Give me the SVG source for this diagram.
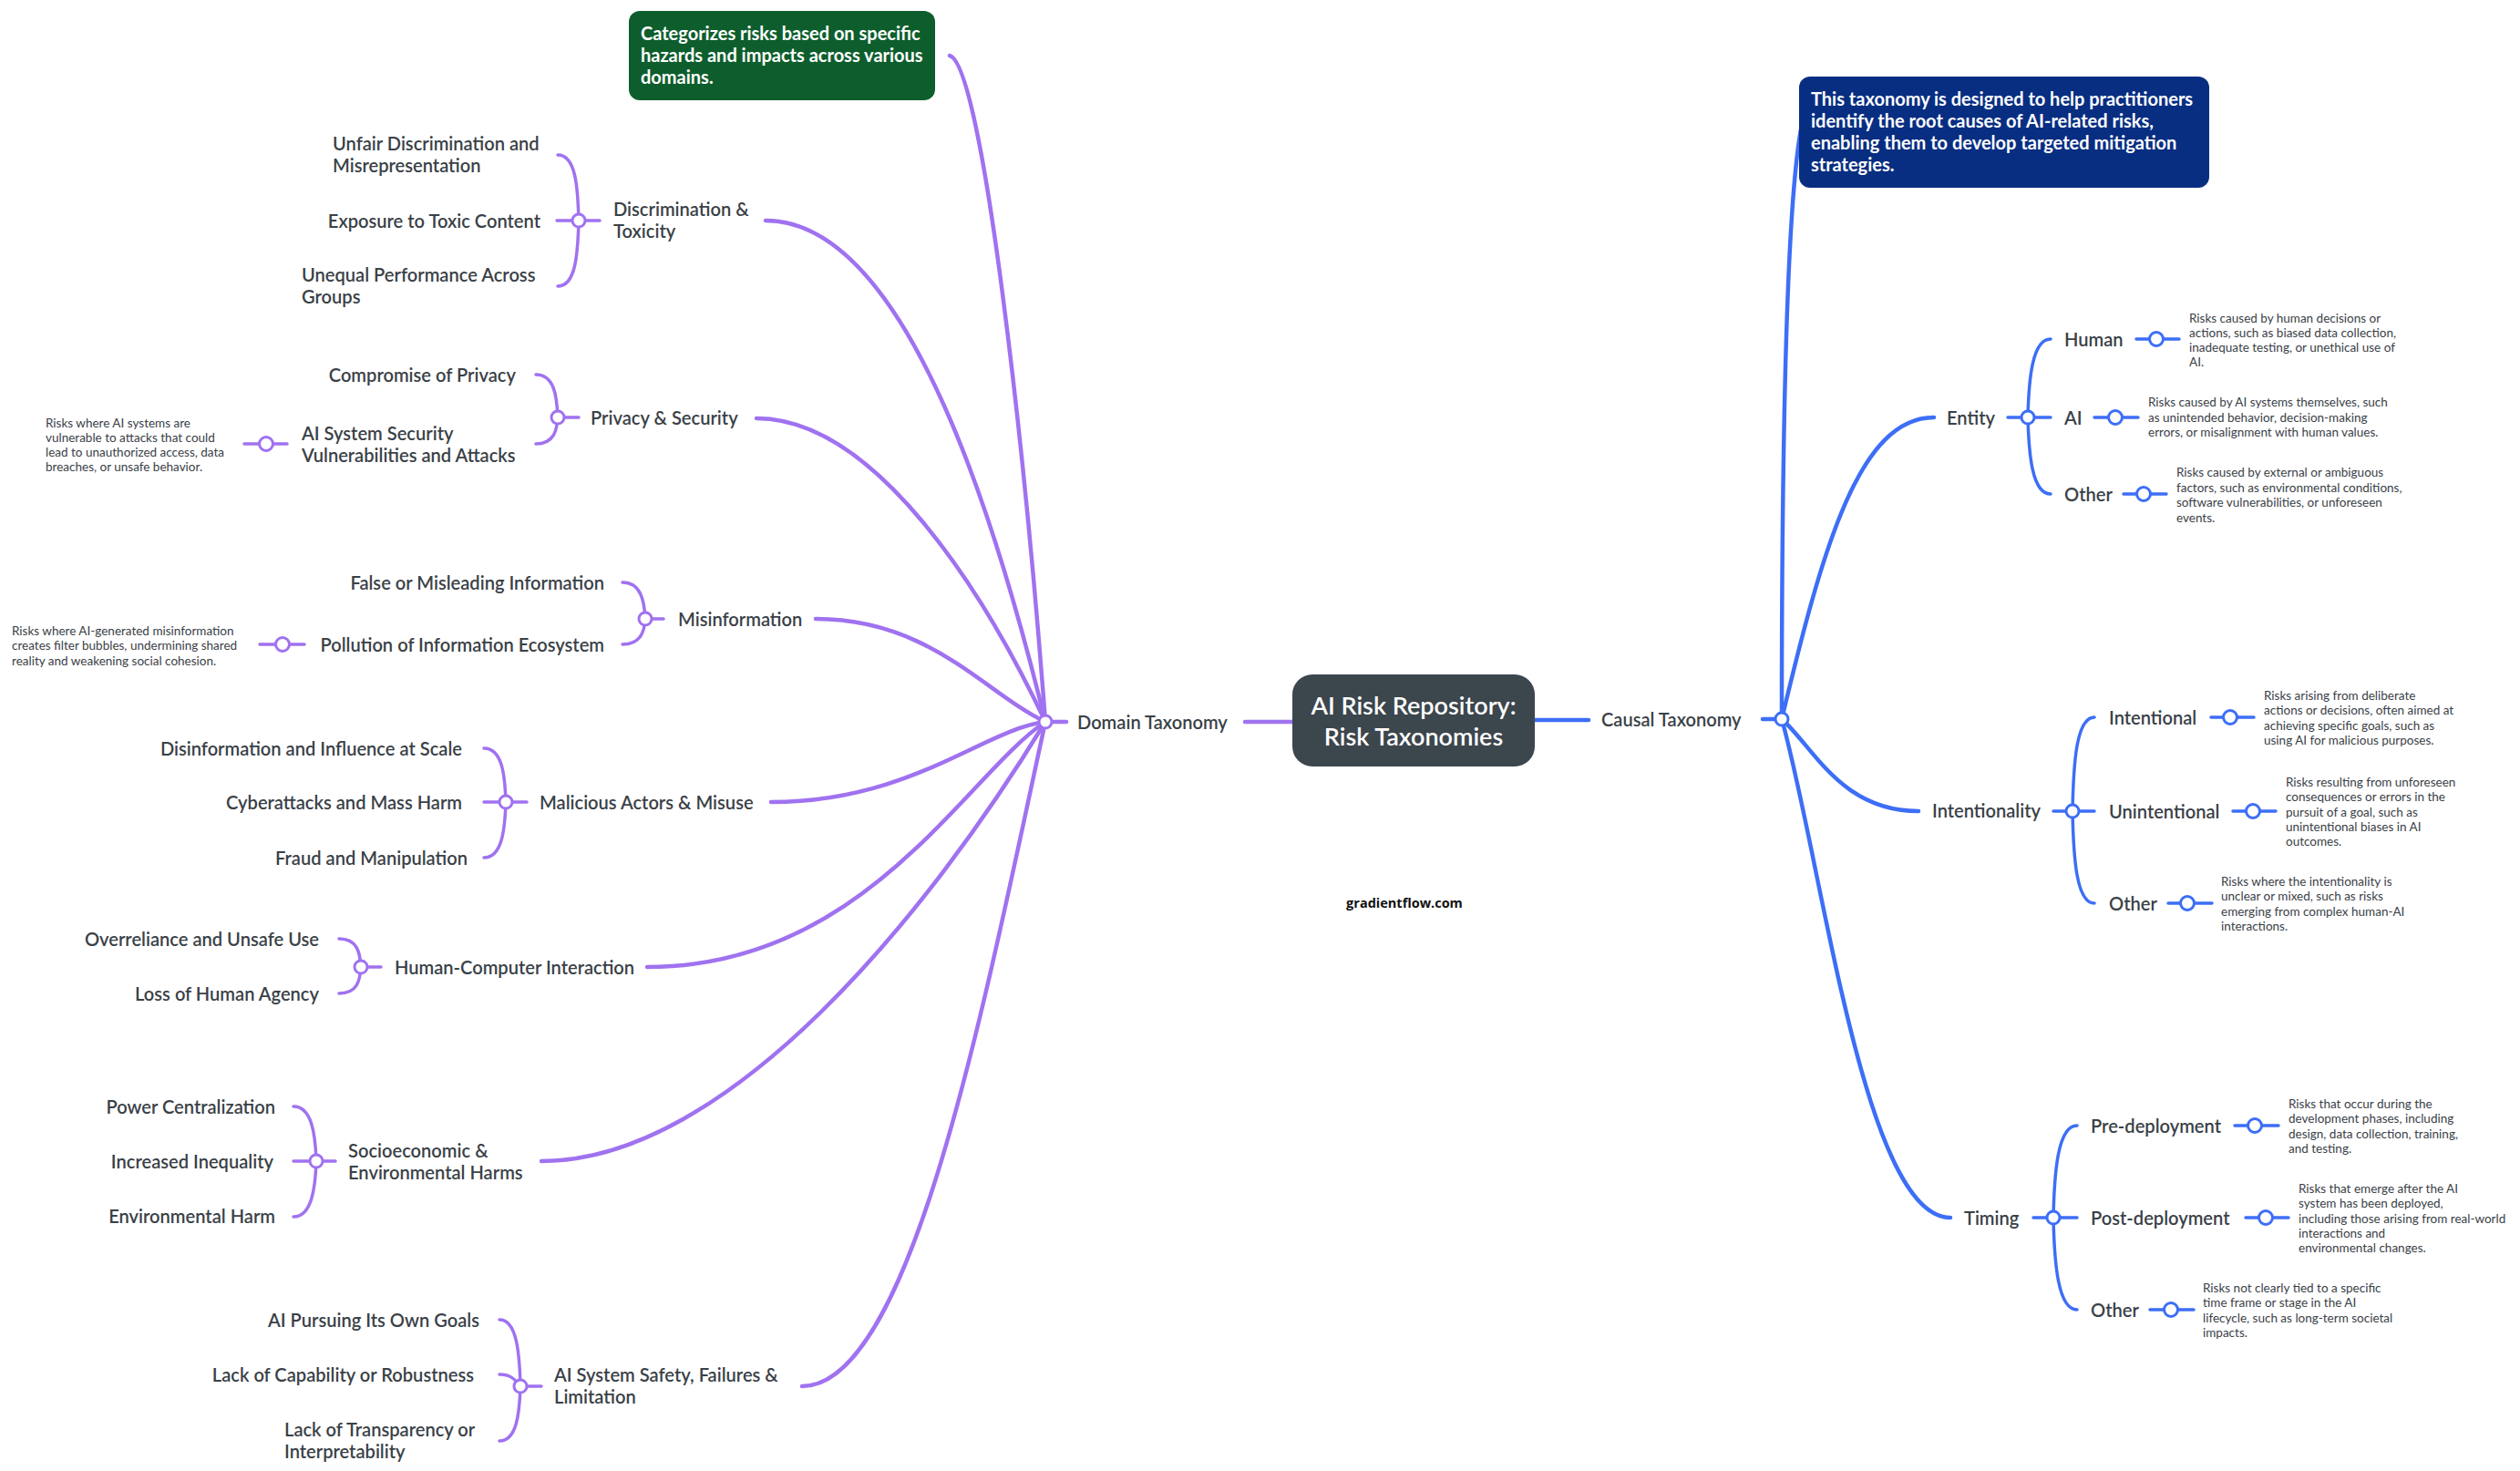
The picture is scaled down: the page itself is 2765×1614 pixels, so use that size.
<svg xmlns="http://www.w3.org/2000/svg" width="2765" height="1614" viewBox="0 0 2765 1614">
<style>
text{font-family:Lato,"Liberation Sans",sans-serif;dominant-baseline:central;fill:#3a4147}
.lb{font-size:20.1px;font-weight:600}
.nt{font-size:13.5px;font-weight:400}
.wt{fill:#fff;font-weight:700;font-size:20px}
.ct{fill:#fff;font-size:27px;font-weight:600}
.p{stroke:#a072f0;fill:none;stroke-width:3.5;stroke-linecap:round}
.pm{stroke:#a072f0;fill:none;stroke-width:4.5;stroke-linecap:round}
.b{stroke:#3d6ef6;fill:none;stroke-width:3.5;stroke-linecap:round}
.bm{stroke:#3d6ef6;fill:none;stroke-width:4.5;stroke-linecap:round}
.hp{fill:#fff;stroke:#a072f0;stroke-width:3}
.hb{fill:#fff;stroke:#3d6ef6;stroke-width:3}
</style>
<rect width="2765" height="1614" fill="#fff"/>
<g id="connectors">
<!-- domain side -->
<path class="pm" d="M1366,792 L1418,792"/>
<path class="pm" d="M1147,792 L1170,792"/>
<path class="pm" d="M1042,61 C1078,70 1125,500 1147,792"/>
<path class="pm" d="M840,242 C1000,242 1100,600 1147,792"/>
<path class="pm" d="M830,459 C960,459 1080,650 1147,792"/>
<path class="pm" d="M895,679 C1020,679 1080,760 1147,792"/>
<path class="pm" d="M846,880 C1000,880 1080,800 1147,792"/>
<path class="pm" d="M710,1061 C950,1061 1060,850 1147,792"/>
<path class="pm" d="M594,1274 C800,1274 1020,1000 1147,792"/>
<path class="pm" d="M880,1521 C1000,1521 1080,1100 1147,792"/>
<!-- discrimination -->
<path class="p" d="M611,242 L658,242"/>
<path class="p" d="M635,242 C634,206 632,170 612,170"/>
<path class="p" d="M635,242 C634,278 632,314 612,314"/>
<!-- privacy -->
<path class="p" d="M612,458 L635,458"/>
<path class="p" d="M612,458 C611,434 608,411 588,411"/>
<path class="p" d="M612,458 C611,472 608,487 588,487"/>
<path class="p" d="M268,487 L315,487"/>
<!-- misinformation -->
<path class="p" d="M708,679 L728,679"/>
<path class="p" d="M708,679 C707,659 703,639 683,639"/>
<path class="p" d="M708,679 C707,693 703,707 683,707"/>
<path class="p" d="M285,707 L334,707"/>
<!-- malicious -->
<path class="p" d="M531,880 L578,880"/>
<path class="p" d="M555,880 C554,850 551,821 531,821"/>
<path class="p" d="M555,880 C554,910 551,941 531,941"/>
<!-- hci -->
<path class="p" d="M396,1061 L418,1061"/>
<path class="p" d="M396,1061 C395,1045 392,1030 372,1030"/>
<path class="p" d="M396,1061 C395,1076 392,1090 372,1090"/>
<!-- socio -->
<path class="p" d="M322,1274 L368,1274"/>
<path class="p" d="M347,1274 C346,1244 342,1214 322,1214"/>
<path class="p" d="M347,1274 C346,1304 342,1335 322,1335"/>
<!-- safety -->
<path class="p" d="M571,1521 L594,1521"/>
<path class="p" d="M571,1521 C570,1484 567,1448 548,1448"/>
<path class="p" d="M571,1521 C564,1512 559,1508 548,1508"/>
<path class="p" d="M571,1521 C570,1551 567,1581 548,1581"/>
<!-- causal side -->
<path class="bm" d="M1684,790 L1743,790"/>
<path class="bm" d="M1934,789 L1955,789"/>
<path class="bm" d="M1955,789 C1955,500 1960,230 1976,142"/>
<path class="bm" d="M1955,789 C2000,600 2040,458 2122,458"/>
<path class="bm" d="M1955,789 C1990,820 2020,890 2105,890"/>
<path class="bm" d="M1955,789 C2000,950 2045,1336 2140,1336"/>
<!-- entity -->
<path class="b" d="M2203,458 L2250,458"/>
<path class="b" d="M2225,458 C2226,415 2230,372 2250,372"/>
<path class="b" d="M2225,458 C2226,500 2230,542 2250,542"/>
<path class="b" d="M2344,372 L2391,372"/>
<path class="b" d="M2298,458 L2346,458"/>
<path class="b" d="M2330,542 L2377,542"/>
<!-- intentionality -->
<path class="b" d="M2253,890 L2298,890"/>
<path class="b" d="M2274,890 C2275,838 2278,787 2298,787"/>
<path class="b" d="M2274,890 C2275,940 2278,991 2298,991"/>
<path class="b" d="M2426,787 L2473,787"/>
<path class="b" d="M2450,890 L2497,890"/>
<path class="b" d="M2379,991 L2427,991"/>
<!-- timing -->
<path class="b" d="M2231,1336 L2279,1336"/>
<path class="b" d="M2253,1336 C2254,1285 2258,1235 2279,1235"/>
<path class="b" d="M2253,1336 C2254,1386 2258,1437 2279,1437"/>
<path class="b" d="M2452,1235 L2500,1235"/>
<path class="b" d="M2464,1336 L2511,1336"/>
<path class="b" d="M2359,1437 L2407,1437"/>
</g>

<g id="center">
<rect x="1418" y="740" width="266" height="101" rx="22" fill="#3c464d"/>
<text class="ct" x="1551" y="773" text-anchor="middle">AI Risk Repository:</text>
<text class="ct" x="1551" y="807" text-anchor="middle">Risk Taxonomies</text>
</g>
<text id="credit" x="1541" y="990" text-anchor="middle" style="font-family:'Open Sans',sans-serif;font-size:14.5px;font-weight:700;fill:#111">gradientflow.com</text>

<g id="domain-taxonomy">
<circle class="hp" cx="1147" cy="792" r="7"/>
<text class="lb" x="1182" y="792">Domain Taxonomy</text>
</g>
<g id="domain-note">
<rect x="690" y="12" width="336" height="98" rx="12" fill="#0e5e2d"/>
<text class="wt" x="703" y="36">Categorizes risks based on specific</text>
<text class="wt" x="703" y="60">hazards and impacts across various</text>
<text class="wt" x="703" y="84">domains.</text>
</g>

<g id="discrimination">
<circle class="hp" cx="635" cy="242" r="7"/>
<text class="lb" x="673" y="229">Discrimination &amp;</text>
<text class="lb" x="673" y="253">Toxicity</text>
</g>
<g id="unfair"><text class="lb" x="365" y="157">Unfair Discrimination and</text><text class="lb" x="365" y="181">Misrepresentation</text></g>
<g id="toxic"><text class="lb" x="593" y="242" text-anchor="end">Exposure to Toxic Content</text></g>
<g id="unequal"><text class="lb" x="331" y="301">Unequal Performance Across</text><text class="lb" x="331" y="325">Groups</text></g>

<g id="privacy">
<circle class="hp" cx="612" cy="458" r="7"/>
<text class="lb" x="648" y="458">Privacy &amp; Security</text>
</g>
<g id="compromise"><text class="lb" x="566" y="411" text-anchor="end">Compromise of Privacy</text></g>
<g id="aisec"><text class="lb" x="331" y="475">AI System Security</text><text class="lb" x="331" y="499">Vulnerabilities and Attacks</text>
<circle class="hp" cx="292" cy="487" r="7.5"/></g>
<g id="aisec-note"><text class="nt" x="50" y="464">Risks where AI systems are</text><text class="nt" x="50" y="480">vulnerable to attacks that could</text><text class="nt" x="50" y="496">lead to unauthorized access, data</text><text class="nt" x="50" y="512">breaches, or unsafe behavior.</text></g>

<g id="misinformation">
<circle class="hp" cx="708" cy="679" r="7"/>
<text class="lb" x="744" y="679">Misinformation</text>
</g>
<g id="false"><text class="lb" x="663" y="639" text-anchor="end">False or Misleading Information</text></g>
<g id="pollution"><text class="lb" x="663" y="707" text-anchor="end">Pollution of Information Ecosystem</text>
<circle class="hp" cx="310" cy="707" r="7.5"/></g>
<g id="pollution-note"><text class="nt" x="13" y="692">Risks where AI-generated misinformation</text><text class="nt" x="13" y="708">creates filter bubbles, undermining shared</text><text class="nt" x="13" y="725">reality and weakening social cohesion.</text></g>

<g id="malicious">
<circle class="hp" cx="555" cy="880" r="7"/>
<text class="lb" x="592" y="880">Malicious Actors &amp; Misuse</text>
</g>
<g id="disinfo"><text class="lb" x="507" y="821" text-anchor="end">Disinformation and Influence at Scale</text></g>
<g id="cyber"><text class="lb" x="507" y="880" text-anchor="end">Cyberattacks and Mass Harm</text></g>
<g id="fraud"><text class="lb" x="513" y="941" text-anchor="end">Fraud and Manipulation</text></g>

<g id="hci">
<circle class="hp" cx="396" cy="1061" r="7"/>
<text class="lb" x="433" y="1061">Human-Computer Interaction</text>
</g>
<g id="overreliance"><text class="lb" x="350" y="1030" text-anchor="end">Overreliance and Unsafe Use</text></g>
<g id="agency"><text class="lb" x="350" y="1090" text-anchor="end">Loss of Human Agency</text></g>

<g id="socio">
<circle class="hp" cx="347" cy="1274" r="7"/>
<text class="lb" x="382" y="1262">Socioeconomic &amp;</text>
<text class="lb" x="382" y="1286">Environmental Harms</text>
</g>
<g id="power"><text class="lb" x="302" y="1214" text-anchor="end">Power Centralization</text></g>
<g id="inequality"><text class="lb" x="300" y="1274" text-anchor="end">Increased Inequality</text></g>
<g id="envharm"><text class="lb" x="302" y="1334" text-anchor="end">Environmental Harm</text></g>

<g id="safety">
<circle class="hp" cx="571" cy="1521" r="7"/>
<text class="lb" x="608" y="1508">AI System Safety, Failures &amp;</text>
<text class="lb" x="608" y="1532">Limitation</text>
</g>
<g id="goals"><text class="lb" x="526" y="1448" text-anchor="end">AI Pursuing Its Own Goals</text></g>
<g id="capability"><text class="lb" x="520" y="1508" text-anchor="end">Lack of Capability or Robustness</text></g>
<g id="transparency"><text class="lb" x="312" y="1568">Lack of Transparency or</text><text class="lb" x="312" y="1592">Interpretability</text></g>

<g id="causal-taxonomy">
<text class="lb" x="1757" y="789">Causal Taxonomy</text>
<circle class="hb" cx="1955" cy="789" r="7"/>
</g>
<g id="causal-note">
<rect x="1974" y="84" width="450" height="122" rx="12" fill="#082e82"/>
<text class="wt" x="1987" y="108">This taxonomy is designed to help practitioners</text>
<text class="wt" x="1987" y="132">identify the root causes of AI-related risks,</text>
<text class="wt" x="1987" y="156">enabling them to develop targeted mitigation</text>
<text class="wt" x="1987" y="180">strategies.</text>
</g>

<g id="entity">
<text class="lb" x="2136" y="458">Entity</text>
<circle class="hb" cx="2225" cy="458" r="7"/>
</g>
<g id="human"><text class="lb" x="2265" y="372">Human</text><circle class="hb" cx="2366" cy="372" r="7.5"/>
<text class="nt" x="2402" y="349">Risks caused by human decisions or</text><text class="nt" x="2402" y="365">actions, such as biased data collection,</text><text class="nt" x="2402" y="381">inadequate testing, or unethical use of</text><text class="nt" x="2402" y="397">AI.</text></g>
<g id="ai"><text class="lb" x="2265" y="458">AI</text><circle class="hb" cx="2321" cy="458" r="7.5"/>
<text class="nt" x="2357" y="441">Risks caused by AI systems themselves, such</text><text class="nt" x="2357" y="458">as unintended behavior, decision-making</text><text class="nt" x="2357" y="474">errors, or misalignment with human values.</text></g>
<g id="entity-other"><text class="lb" x="2265" y="542">Other</text><circle class="hb" cx="2352" cy="542" r="7.5"/>
<text class="nt" x="2388" y="518">Risks caused by external or ambiguous</text><text class="nt" x="2388" y="535">factors, such as environmental conditions,</text><text class="nt" x="2388" y="551">software vulnerabilities, or unforeseen</text><text class="nt" x="2388" y="568">events.</text></g>

<g id="intentionality">
<text class="lb" x="2120" y="889">Intentionality</text>
<circle class="hb" cx="2274" cy="890" r="7"/>
</g>
<g id="intentional"><text class="lb" x="2314" y="787">Intentional</text><circle class="hb" cx="2447" cy="787" r="7.5"/>
<text class="nt" x="2484" y="763">Risks arising from deliberate</text><text class="nt" x="2484" y="779">actions or decisions, often aimed at</text><text class="nt" x="2484" y="796">achieving specific goals, such as</text><text class="nt" x="2484" y="812">using AI for malicious purposes.</text></g>
<g id="unintentional"><text class="lb" x="2314" y="890">Unintentional</text><circle class="hb" cx="2472" cy="890" r="7.5"/>
<text class="nt" x="2508" y="858">Risks resulting from unforeseen</text><text class="nt" x="2508" y="874">consequences or errors in the</text><text class="nt" x="2508" y="891">pursuit of a goal, such as</text><text class="nt" x="2508" y="907">unintentional biases in AI</text><text class="nt" x="2508" y="923">outcomes.</text></g>
<g id="intent-other"><text class="lb" x="2314" y="991">Other</text><circle class="hb" cx="2400" cy="991" r="7.5"/>
<text class="nt" x="2437" y="967">Risks where the intentionality is</text><text class="nt" x="2437" y="983">unclear or mixed, such as risks</text><text class="nt" x="2437" y="1000">emerging from complex human-AI</text><text class="nt" x="2437" y="1016">interactions.</text></g>

<g id="timing">
<text class="lb" x="2155" y="1336">Timing</text>
<circle class="hb" cx="2253" cy="1336" r="7"/>
</g>
<g id="pre"><text class="lb" x="2294" y="1235">Pre-deployment</text><circle class="hb" cx="2474" cy="1235" r="7.5"/>
<text class="nt" x="2511" y="1211">Risks that occur during the</text><text class="nt" x="2511" y="1227">development phases, including</text><text class="nt" x="2511" y="1244">design, data collection, training,</text><text class="nt" x="2511" y="1260">and testing.</text></g>
<g id="post"><text class="lb" x="2294" y="1336">Post-deployment</text><circle class="hb" cx="2486" cy="1336" r="7.5"/>
<text class="nt" x="2522" y="1304">Risks that emerge after the AI</text><text class="nt" x="2522" y="1320">system has been deployed,</text><text class="nt" x="2522" y="1337">including those arising from real-world</text><text class="nt" x="2522" y="1353">interactions and</text><text class="nt" x="2522" y="1369">environmental changes.</text></g>
<g id="timing-other"><text class="lb" x="2294" y="1437">Other</text><circle class="hb" cx="2382" cy="1437" r="7.5"/>
<text class="nt" x="2417" y="1413">Risks not clearly tied to a specific</text><text class="nt" x="2417" y="1429">time frame or stage in the AI</text><text class="nt" x="2417" y="1446">lifecycle, such as long-term societal</text><text class="nt" x="2417" y="1462">impacts.</text></g>
</svg>
